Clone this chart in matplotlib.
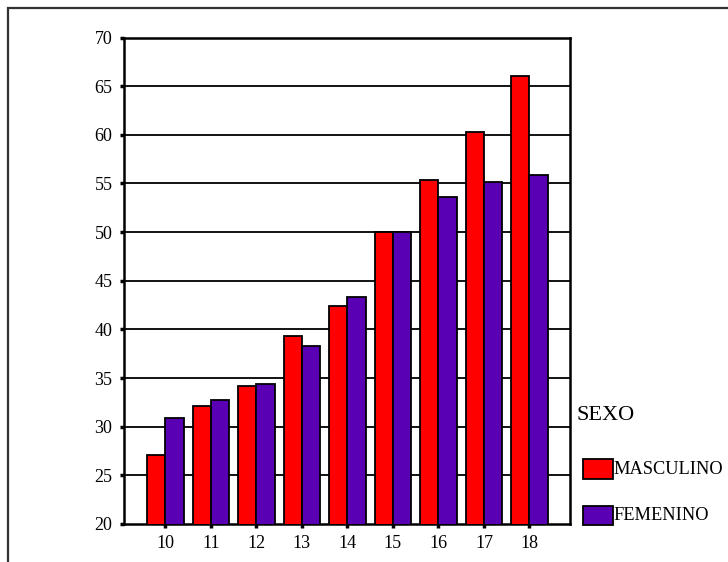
import matplotlib.pyplot as plt
from matplotlib.patches import Rectangle
import numpy as np

plt.rcParams['font.family'] = ['Liberation Serif', 'DejaVu Serif']

edades = ['10', '11', '12', '13', '14', '15', '16', '17', '18']
masculino = [27.1, 32.1, 34.2, 39.3, 42.4, 50.0, 55.4, 60.3, 66.0]
femenino = [30.9, 32.7, 34.4, 38.3, 43.3, 50.0, 53.6, 55.2, 55.9]
y_ticks = [20, 25, 30, 35, 40, 45, 50, 55, 60, 65, 70]

rojo = '#ff0000'
morado = '#5a00b4'

fig = plt.figure(figsize=(7.28, 5.62), dpi=100)

# marco exterior (solo se ven los bordes superior e izquierdo)
fig.patches.append(Rectangle((8 / 728, -0.05), 1.1, 1 - 8 / 562 + 0.05,
                             transform=fig.transFigure, fill=False,
                             edgecolor='#333333', linewidth=1.6))

ax = fig.add_axes([123.5 / 728, 1 - 524 / 562, (570 - 123.5) / 728, (524 - 37.5) / 562])

x = np.arange(len(edades))
w = 0.4
ax.bar(x - w / 2, masculino, w, bottom=0, color=rojo, edgecolor='black',
       linewidth=1.3, zorder=3)
ax.bar(x + w / 2, femenino, w, bottom=0, color=morado, edgecolor='black',
       linewidth=1.3, zorder=3)

ax.set_ylim(20, 70)
ax.set_xlim(-0.92, 8.89)
ax.set_yticks(y_ticks)
ax.set_xticks(x)
ax.set_xticklabels(edades)

for v in y_ticks[1:-1]:
    ax.axhline(v, color='black', linewidth=1.3, zorder=1)

for s in ax.spines.values():
    s.set_linewidth(1.8)
    s.set_color('black')

ax.tick_params(axis='both', direction='out', length=3, width=2.5,
               labelsize=13, color='black')
ax.tick_params(axis='y', pad=5)
ax.tick_params(axis='x', pad=5)

# leyenda
fig.text(576 / 728, 1 - 416 / 562, 'SEXO', fontsize=16, va='center', ha='left')
fig.patches.append(Rectangle((583 / 728, 1 - 478.5 / 562), 30 / 728, 19.5 / 562,
                             transform=fig.transFigure, facecolor=rojo,
                             edgecolor='black', linewidth=1.3))
fig.patches.append(Rectangle((583 / 728, 1 - 525 / 562), 30 / 728, 19.5 / 562,
                             transform=fig.transFigure, facecolor=morado,
                             edgecolor='black', linewidth=1.3))
fig.text(613 / 728, 1 - 470 / 562, 'MASCULINO', fontsize=13.2, va='center', ha='left')
fig.text(613 / 728, 1 - 516 / 562, 'FEMENINO', fontsize=13.2, va='center', ha='left')

fig.savefig('out.png', dpi=100)
